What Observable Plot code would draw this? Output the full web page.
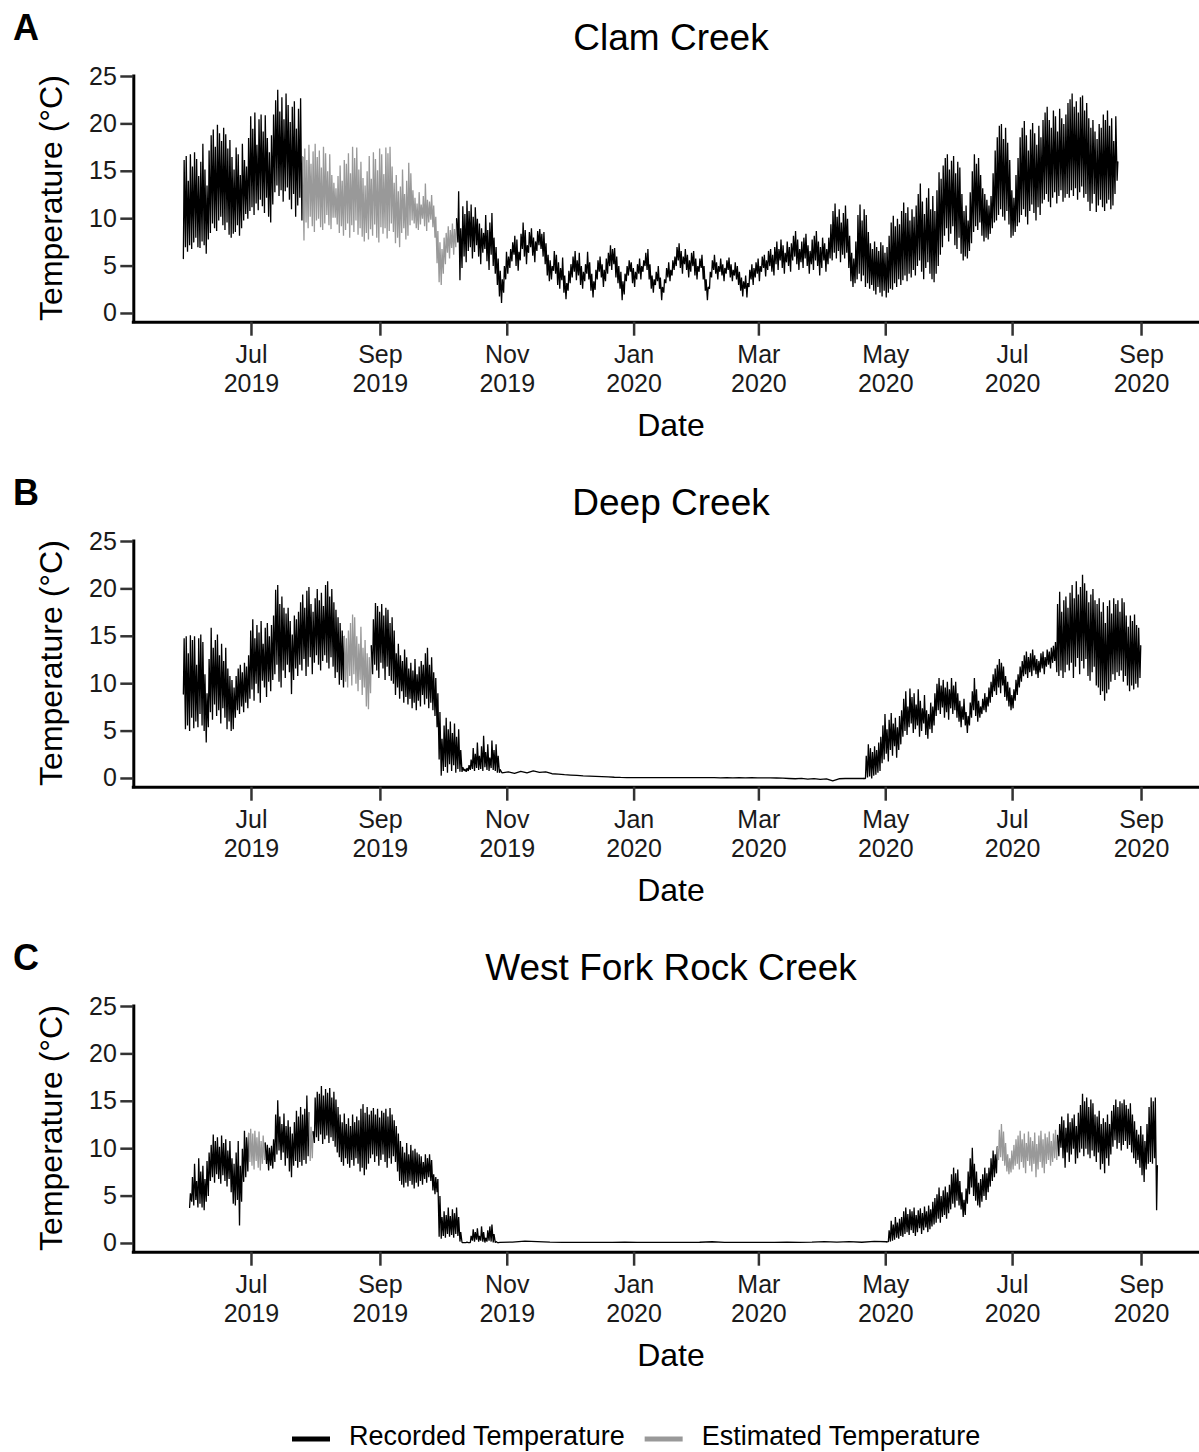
<!DOCTYPE html>
<html>
<head>
<meta charset="utf-8">
<script src="https://cdn.jsdelivr.net/npm/d3@7"></script>
<script src="https://cdn.jsdelivr.net/npm/@observablehq/plot@0.6"></script>
<style>
  html, body { margin: 0; padding: 0; background: #fff; overflow: hidden; }
  #wrap { position: relative; width: 1199px; height: 1452px; background: #fff; }
  .panel { position: absolute; left: 0; width: 1199px; height: 465px; }
  #legend { position: absolute; left: 0; top: 1400px; }
</style>
</head>
<body>
<div id="wrap"></div>
<script>
const FONT = "'Liberation Sans', Arial, Helvetica, sans-serif";

// ---------- labels / ticks ----------
const panelTitles = ["Clam Creek", "Deep Creek", "West Fork Rock Creek"];
const panelTags = ["A", "B", "C"];
const seriesTypes = ["Recorded Temperature", "Estimated Temperature"];
const seriesColors = ["#000000", "#999999"];
const xTickDates = ["2019-07-01", "2019-09-01", "2019-11-01", "2020-01-01", "2020-03-01", "2020-05-01", "2020-07-01", "2020-09-01"];
const monthNames = ["Jan", "Feb", "Mar", "Apr", "May", "Jun", "Jul", "Aug", "Sep", "Oct", "Nov", "Dec"];
const yTicks = [0, 5, 10, 15, 20, 25];
const yTitle = "Temperature (°C)";
const xTitle = "Date";

// ---------- data ----------
// Segments: start date, type (R = recorded, E = estimated), step
// step 0 -> daily "min max" pairs (min early morning, max afternoon)
// step n -> one value every n days
const clamStarts = ["2019-05-29", "2019-07-26", "2019-10-08"];
const clamKinds = ["R", "E", "R"];
const clamSteps = [0, 0, 0];
const clamVals = [
  "5.8 16.2, 7.0 16.6, 6.5 14.0, 7.2 16.8, 6.8 15.5, 7.5 17.0, 8.0 16.3, 7.0 14.5, 6.9 16.0, 7.6 17.9, 7.2 15.2, 6.3 13.5, 7.8 17.2, 8.5 18.8, 9.5 19.4, 9.0 17.6, 8.7 19.9, 9.8 19.0, 10.2 18.2, 9.3 19.6, 8.8 18.9, 9.6 17.4, 8.3 18.3, 8.0 16.5, 8.4 15.2, 8.6 17.5, 9.3 16.8, 8.2 14.6, 9.0 17.9, 9.8 16.2, 10.5 15.5, 10.0 18.5, 10.8 20.8, 11.2 19.5, 10.4 21.2, 11.6 17.8, 10.9 20.5, 12.0 21.0, 11.3 19.2, 10.6 20.9, 12.2 18.5, 10.2 17.0, 9.6 18.8, 11.5 21.0, 12.8 22.5, 13.5 23.6, 12.4 21.3, 13.0 22.8, 11.8 20.5, 12.9 23.2, 13.3 22.0, 12.0 20.2, 11.0 21.8, 12.6 22.4, 10.2 19.5, 11.4 21.6, 12.2 22.7, 9.8 16.5",
  "7.7 17.4, 9.6 16.2, 9.0 17.8, 10.2 15.8, 9.2 17.1, 8.6 17.9, 9.8 16.5, 10.0 17.2, 9.1 15.4, 8.8 17.6, 9.5 16.9, 10.4 15.0, 9.3 16.8, 8.9 14.6, 10.1 13.8, 10.1 13.2, 9.4 14.5, 8.5 15.6, 9.2 14.0, 8.2 16.2, 8.8 15.8, 9.5 16.9, 8.0 14.8, 9.3 17.6, 8.6 16.4, 9.8 17.5, 8.3 15.2, 9.0 16.0, 8.1 14.3, 7.6 13.5, 8.5 15.0, 7.8 16.6, 8.9 14.2, 8.2 17.0, 9.4 16.3, 8.0 15.1, 7.5 17.4, 9.1 16.8, 8.4 14.7, 9.0 17.5, 7.9 16.9, 8.7 17.6, 9.5 15.5, 8.6 13.8, 7.4 14.6, 8.0 12.9, 7.0 13.4, 8.5 15.2, 9.0 12.6, 7.8 14.0, 8.2 15.9, 9.3 14.8, 9.8 13.0, 9.5 12.2, 9.0 11.6, 8.8 12.8, 9.4 11.5, 10.0 12.4, 9.2 13.7, 8.7 12.0, 9.6 11.8, 9.9 12.5, 9.1 11.4, 8.0 10.2, 5.3 8.7, 3.3 7.5, 3.0 6.8, 4.2 8.0, 5.2 8.5, 6.4 9.2, 5.8 8.8, 6.9 9.5, 6.2 8.9, 7.0 10.0",
  "7.5 12.9, 3.5 9.0, 4.8 11.3, 6.0 10.5, 5.4 11.9, 6.6 10.8, 7.0 11.5, 5.8 10.2, 6.5 11.2, 7.2 10.0, 6.0 9.5, 5.2 9.0, 6.4 8.5, 6.8 10.4, 5.5 8.8, 4.6 9.6, 6.2 10.6, 5.0 8.0, 4.2 7.0, 3.0 5.8, 1.8 4.5, 1.1 3.6, 2.2 5.0, 3.6 6.5, " +
  "4.2 6.0, 4.8 6.8, 5.5 7.5, 6.2 8.2, 5.0 7.8, 4.5 6.5, 5.6 8.4, 6.8 9.6, 6.0 8.8, 5.2 7.2, 6.4 8.6, 7.0 9.0, 6.1 8.0, 5.4 7.6, 6.6 8.7, 7.2 8.9, 6.8 8.4, 6.0 8.6, 5.2 7.4, 4.0 6.2, 3.4 5.6, 3.6 5.0, 4.5 6.6, " +
  "4.2 6.2, 3.0 5.4, 2.6 4.8, 3.5 5.9, 2.2 4.0, 1.5 3.2, 2.4 4.5, 3.2 5.2, 3.8 6.0, 4.4 6.6, 3.5 5.6, 4.0 6.4, 3.0 5.0, 2.6 4.4, 3.4 5.2, 4.2 6.5, 3.6 5.4, 2.4 4.2, 1.7 3.4, 2.5 4.6, 3.6 5.6, 4.4 6.0, 3.8 5.2, 2.8 4.6, 3.4 5.8, 4.2 6.4, " +
  "5.0 7.2, 4.6 6.8, 5.2 6.9, 3.8 6.0, 3.2 5.0, 2.6 4.4, " +
  "1.4 3.4, 2.0 4.2, 3.4 5.0, 4.0 5.6, 4.4 5.4, 3.2 4.8, 2.8 4.4, 3.6 5.2, 4.2 5.8, 3.6 5.0, 4.4 5.6, 5.0 6.4, 4.6 6.8, 3.6 5.2, 2.6 4.0, 2.2 3.6, 3.0 4.4, 3.4 5.0, 2.6 3.8, 1.4 2.8, 2.2 3.6, 3.2 4.8, 3.8 5.4, 3.4 4.6, 4.0 5.6, 4.6 6.0, " +
  "5.0 7.0, 5.6 7.4, 4.8 6.6, 4.2 6.0, 5.2 6.8, 4.6 6.2, 3.8 5.6, 4.4 6.4, 5.0 6.6, 4.0 5.8, 3.6 5.0, 4.4 5.8, 4.8 6.2, 3.6 5.0, 2.4 3.6, 1.4 2.8, " +
  "2.6 4.4, 3.8 5.6, 4.6 6.2, 4.2 5.4, 3.6 5.0, 4.4 5.8, 4.0 5.2, 3.4 4.8, 4.2 5.6, 4.6 5.9, 3.8 5.2, 3.4 4.6, 4.0 5.4, 3.6 5.0, 3.0 4.4, 2.4 3.8, " +
  "1.8 3.4, 2.6 4.0, 1.7 3.2, 2.8 4.6, 3.6 5.2, 3.0 4.8, 3.8 5.4, 4.2 5.8, 3.4 5.0, 4.4 6.0, 4.8 6.2, 3.9 5.6, 4.6 6.6, 5.0 6.8, 4.4 6.2, " +
  "4.0 7.0, 5.2 7.6, 4.6 6.8, 5.6 7.8, 4.8 7.2, 4.2 6.4, 5.4 7.6, 5.0 7.0, 4.4 7.4, 5.6 8.2, 6.0 8.7, 5.2 7.8, 4.6 6.8, 5.4 7.6, 4.8 8.0, 5.8 8.4, 5.0 7.2, 4.2 6.6, 5.2 7.8, 4.6 8.2, 5.6 8.7, 5.0 7.6, 4.0 7.0, 4.8 8.0, 5.6 7.4, 4.4 6.8, 5.2 8.0, 5.8 9.4, " +
  "5.6 10.8, 6.4 11.6, 5.8 10.2, 6.6 11.0, 5.4 9.6, 6.2 10.6, 5.8 11.4, 6.4 10.0, 4.8 8.2, 3.4 6.4, 2.8 5.8, 3.2 7.6, " +
  "3.6 10.4, 4.2 11.5, 3.4 9.8, 4.0 11.0, 2.8 10.4, 3.2 8.6, 2.6 7.4, 3.0 6.8, 2.4 7.6, 2.0 7.0, 2.8 6.6, 2.2 7.5, 1.8 7.2, 2.4 6.4, 1.7 7.0, 2.2 8.2, " +
  "2.6 9.6, 2.5 10.3, 3.2 9.2, 2.8 10.0, 3.6 9.4, 3.0 10.8, 3.5 11.7, 4.0 10.6, 3.4 11.2, 4.2 9.8, 3.8 11.0, 4.6 10.2, " +
  "4.0 11.4, 5.0 12.6, 5.6 13.7, 4.4 11.8, 3.6 10.5, 4.8 12.2, 5.4 13.2, 4.2 11.0, 3.6 12.4, 3.3 10.8, 4.2 13.0, 5.0 14.9, 6.2 14.2, " +
  "7.0 15.6, 8.2 16.4, 9.0 16.8, 7.6 15.2, 8.4 16.1, 9.2 16.6, 7.2 14.8, 6.8 16.0, 8.0 15.4, 6.3 12.6, 5.6 10.8, 6.0 11.4, 5.8 9.8, 6.6 12.8, 7.4 15.0, " +
  "8.6 16.8, 9.2 15.8, 8.8 16.4, 9.6 14.6, 8.2 13.2, 7.6 12.6, 8.0 12.0, 7.8 11.4, 8.4 12.4, 9.0 14.8, 9.6 17.2, " +
  "9.8 18.6, 10.4 19.8, 11.0 20.0, 10.2 18.4, 9.8 19.6, 10.8 18.0, 9.4 16.2, 8.0 13.0, 8.2 12.2, 8.6 14.6, 9.2 16.4, " +
  "9.6 18.6, 10.4 19.6, 11.0 20.3, 10.2 18.8, 9.4 17.2, 10.8 19.4, 11.5 20.1, 10.6 19.0, 9.8 17.8, 11.2 19.8, 10.4 18.6, 11.6 20.4, " +
  "12.0 21.2, 12.6 21.8, 11.8 20.4, 11.2 19.6, 12.2 21.4, 12.8 20.8, 11.6 19.2, 12.4 21.6, 13.0 20.6, 11.8 20.0, 12.2 21.0, 12.6 22.2, " +
  "12.2 22.6, 13.0 23.2, 12.4 21.8, 13.2 22.4, 12.0 21.2, 12.8 22.8, 13.4 23.0, 12.2 21.4, 12.6 22.2, 11.8 20.6, " +
  "10.8 19.6, 11.6 20.4, 12.6 19.2, 10.7 18.4, 11.4 20.0, 12.0 19.6, 11.2 21.0, 10.8 20.4, 11.6 21.4, 12.0 19.8, 11.0 20.6, 11.4 18.2, 12.6 20.8, 14.0 16.0"
];

const deepStarts = ["2019-05-29", "2019-08-15", "2019-08-28", "2019-10-29", "2020-04-21"];
const deepKinds = ["R", "E", "R", "R", "R"];
const deepSteps = [0, 0, 0, 3, 0];
const deepVals = [
  "8.9 14.8, 5.2 15.0, 5.6 13.2, 5.0 15.1, 6.4 14.6, 5.3 15.0, 6.0 12.0, 5.4 14.8, 6.8 15.2, 5.6 14.4, 5.0 11.0, 3.8 9.0, 5.4 12.6, 7.0 15.9, 6.2 13.8, 7.8 14.6, 6.6 15.2, 7.2 13.0, 5.8 14.2, 7.4 12.4, 6.4 13.8, 5.2 11.6, 6.0 10.8, 5.0 10.4, 5.2 9.6, 6.4 10.8, 7.2 11.6, 6.8 12.0, 7.6 11.2, 7.0 12.2, 8.0 11.8, 7.4 13.0, 8.4 15.6, 9.4 16.8, 8.2 14.8, 10.0 16.2, 9.0 15.4, 8.0 16.6, 10.3 14.2, 9.6 15.9, 8.6 16.4, 10.2 15.0, 9.2 16.2, 10.4 17.2, 11.0 19.9, 12.0 20.4, 10.2 18.4, 9.6 19.2, 11.4 18.0, 10.6 17.4, 12.0 18.0, 11.2 16.6, 8.9 15.2, 10.4 17.2, 11.6 16.8, 10.8 17.6, 12.0 18.6, 11.4 19.4, 12.6 18.0, 10.8 19.8, 11.8 20.2, 12.8 18.4, 11.0 17.6, 12.2 19.0, 13.0 20.0, 12.0 18.8, 11.4 19.6, 12.4 18.2, 13.0 20.4, 12.2 20.8, 11.6 19.2, 12.8 20.0, 11.8 18.6, 10.6 17.8, 11.2 17.0, 9.9 16.4, 10.4 15.6, 9.6 15.0",
  "10.2 14.8, 9.6 15.6, 10.8 16.4, 9.8 17.3, 11.0 17.0, 10.0 15.0, 9.2 14.2, 10.4 16.0, 8.8 13.8, 9.6 14.6, 7.6 13.2, 7.3 12.8, 9.0 14.0",
  "11.0 16.8, 12.0 18.5, 11.4 18.2, 10.6 17.6, 12.2 18.4, 11.6 17.2, 10.4 18.0, 11.8 17.8, 10.8 16.4, 10.3 17.0, 10.0 15.6, " +
  "8.8 13.2, 9.6 14.2, 8.4 13.0, 9.2 12.4, 8.0 13.6, 8.6 12.8, 7.8 11.6, 8.4 12.2, 7.4 11.4, 8.0 12.6, 7.2 11.0, 8.2 11.8, 7.6 12.4, 8.8 12.0, 7.8 13.2, 8.4 13.8, 7.4 12.0, 8.0 12.8, 7.2 11.2, 6.6 10.6, 5.4 9.0, 2.0 7.0, " +
  "0.3 4.2, 0.8 5.6, 1.2 6.4, 0.6 5.2, 1.5 6.0, 0.8 4.8, 1.4 5.8, 0.6 4.4, 1.0 5.2, 0.7 3.0, " +
  "0.7 1.2, 0.8 1.0, 0.7 1.1, 0.8 1.4, 0.9 2.0, " +
  "1.0 3.2, 0.8 2.6, 1.1 3.8, 0.9 2.4, 1.0 3.4, 0.8 4.5, 1.2 2.8, 0.9 3.6, 0.8 2.2, 1.1 4.0, 0.9 3.0, 0.8 3.6, 0.6 2.4, 0.6 0.9",
  "0.6 0.7 0.55 0.75 0.6 0.8 0.65 0.7 0.5 0.45 0.4 0.36 0.32 0.28 0.25 0.22 0.19 0.16 0.13 0.11 0.1 0.1 0.09 0.1 0.09 0.1 0.09 0.08 0.09 0.1 0.08 0.09 0.08 0.09 0.08 0.07 0.08 0.07 0.08 0.07 0.08 0.06 0.07 0.06 0.05 0.03 0 -0.03 0.02 -0.06 -0.02 -0.1 -0.04 -0.25 -0.03 0 0 0.01 0",
  "0.0 2.4, 0.1 3.6, 0.2 3.2, 0.0 2.8, 0.3 3.4, 0.4 3.0, 0.6 3.8, 0.8 4.4, " +
  "1.6 5.6, 2.0 6.8, 2.6 5.2, 1.8 6.2, 3.0 6.9, 2.4 5.8, 3.4 6.4, 2.2 5.4, 3.0 6.6, 3.6 7.2, " +
  "4.4 8.4, 5.0 9.2, 4.6 7.6, 5.4 9.5, 5.8 8.6, 4.8 9.0, 5.2 7.8, 5.6 9.4, 4.4 8.2, 5.0 7.4, 5.8 8.8, 4.6 7.2, 4.2 6.8, 5.2 8.0, 4.8 7.6, 5.6 9.0, " +
  "6.6 10.0, 7.2 10.6, 6.8 9.8, 7.5 10.4, 6.4 9.6, 7.0 10.2, 6.2 9.4, 7.4 10.6, 6.8 9.8, 7.2 10.2, 6.4 9.0, 6.0 8.2, 5.4 7.6, 6.2 8.4, 5.6 7.0, 4.8 6.6, " +
  "5.6 8.0, 6.4 9.2, 7.2 10.6, 6.6 9.4, 6.0 8.2, 6.4 7.6, 6.8 8.4, 7.2 9.0, 7.0 8.6, 7.6 9.6, " +
  "8.0 10.2, 8.6 11.0, 9.2 11.6, 8.8 12.0, 9.6 12.6, 9.0 12.2, 9.8 11.8, 8.6 10.8, 8.2 10.2, 7.6 9.6, 7.2 8.8, 7.4 9.4, 8.2 10.4, " +
  "8.8 11.0, 9.6 11.8, 10.2 12.4, 10.8 13.0, 11.0 13.4, 10.6 12.8, 11.2 13.2, 10.8 13.6, 11.4 13.0, 11.0 12.6, 10.6 12.4, 11.2 13.2, 11.6 13.4, 11.0 12.8, 11.8 13.6, 12.0 13.4, 11.6 13.8, 12.2 14.0, 12.4 14.4, " +
  "11.2 18.4, 10.8 19.7, 11.4 17.6, 10.6 18.8, 11.2 19.2, 12.0 18.0, " +
  "11.4 19.6, 12.2 20.4, 10.6 19.0, 11.8 20.8, 12.7 19.4, 11.0 20.2, 12.4 21.5, 11.6 20.6, 12.6 19.8, 10.8 18.6, 10.3 19.4, 11.2 20.0, 11.8 18.8, " +
  "9.8 18.4, 9.6 19.0, 8.8 17.6, 9.2 18.6, 8.2 16.4, 9.0 18.2, 9.4 18.8, 10.2 17.4, " +
  "11.0 19.0, 10.4 18.4, 11.2 18.8, 10.8 17.6, 11.4 19.0, 10.2 18.6, 10.8 17.2, 9.8 16.0, " +
  "9.2 17.2, 9.8 16.6, 9.4 17.3, 10.0 16.2, 9.6 15.9, 10.6 14.0"
];

const westStarts = ["2019-06-01", "2019-06-30", "2019-07-08", "2019-07-29", "2019-07-31", "2019-10-28", "2020-05-02", "2020-06-24", "2020-07-23"];
const westKinds = ["R", "E", "R", "E", "R", "R", "R", "E", "R"];
const westSteps = [0, 0, 0, 0, 0, 6, 0, 0, 0];
const westVals = [
  "3.8 5.3, 4.4 7.0, 4.0 8.4, 4.6 6.6, 3.8 9.0, 4.2 7.6, 3.8 8.2, 3.5 6.8, 4.4 8.7, 5.0 9.6, 6.6 10.4, 7.0 11.5, 6.4 10.8, 7.3 11.2, 6.8 10.2, 6.3 11.4, 7.2 10.6, 6.6 11.0, 6.0 9.8, 6.8 10.8, 5.4 9.0, 4.2 8.4, 4.0 9.6, 4.6 10.8, 1.9 8.2, 4.4 10.0, 6.5 11.9, 7.0 11.2, 7.6 11.6",
  "8.6 12.1, 8.2 11.6, 7.8 11.9, 8.7 11.2, 8.0 11.8, 7.7 10.8, 8.4 11.4, 8.8 10.6",
  "8.4 10.4, 7.7 10.1, 8.2 10.3, 7.9 11.0, 8.6 13.6, 9.4 15.1, 9.8 13.4, 8.8 12.6, 9.6 13.7, 8.2 12.4, 9.0 13.0, 7.6 12.3, 7.0 11.6, 8.2 12.8, 8.7 14.0, 8.0 13.4, 8.6 14.4, 8.2 13.6, 8.8 14.2, 8.4 15.6, 9.2 13.8",
  "8.7 12.3, 9.0 11.8",
  "10.6 15.4, 11.2 16.0, 10.8 15.8, 11.5 16.6, 10.5 15.6, 11.0 16.3, 11.4 15.9, 10.6 16.4, 11.2 15.4, 10.8 16.0, 10.2 15.2, 9.6 14.4, " +
  "9.1 13.6, 8.6 12.8, 8.2 13.7, 9.0 12.6, 8.4 13.2, 8.0 12.4, 8.8 13.6, 8.2 12.8, 9.0 13.4, 8.4 13.0, " +
  "7.6 14.2, 8.0 14.7, 7.2 13.8, 7.8 14.4, 8.4 13.6, " +
  "9.0 14.0, 9.4 14.3, 8.6 13.6, 9.2 14.2, 8.2 13.3, 8.8 14.0, 9.4 13.8, 8.6 14.2, 8.0 13.4, 9.0 14.3, 8.4 13.6, 9.2 13.0, 8.6 12.4, 7.6 11.6, " +
  "6.6 10.8, 6.2 10.2, 5.9 9.6, 6.4 10.6, 6.0 9.4, 6.6 10.4, 6.2 9.8, 5.8 10.0, 6.4 9.6, 6.0 9.4, " +
  "6.6 9.2, 6.2 8.6, 6.8 9.4, 6.4 9.0, 7.0 9.4, 6.6 8.8, 5.6 7.3, 5.2 7.0, 5.4 6.8, 0.7 5.0, " +
  "0.5 2.8, 0.8 3.4, 0.6 3.0, 1.0 3.8, 0.7 2.9, 0.9 3.6, 0.6 3.2, 1.0 3.8, 0.8 2.8, 0.2 1.2, " +
  "0.1 0.1, 0.1 0.1, 0.1 0.15, 0.1 0.1, " +
  "0.1 0.8, 0.3 1.5, 0.2 1.2, 0.4 1.6, 0.2 0.8, 0.3 1.8, 0.2 1.2, 0.1 0.6, 0.2 1.4, 0.3 1.8, 0.2 2.0, 0.1 1.0, 0.1 0.2, 0.1 0.1",
  "0.12 0.15 0.25 0.2 0.14 0.12 0.12 0.12 0.12 0.12 0.14 0.12 0.12 0.12 0.12 0.12 0.13 0.18 0.12 0.12 0.12 0.12 0.12 0.15 0.12 0.14 0.2 0.14 0.2 0.13 0.22 0.18",
  "0.2 1.4, 0.2 2.4, 0.3 2.0, 0.4 2.8, 0.6 2.2, 0.5 2.6, 0.8 2.8, " +
  "0.7 3.4, 1.0 3.8, 1.2 3.1, 0.9 3.6, 1.4 3.4, 1.1 3.8, 0.8 3.0, 1.2 3.5, 1.6 3.7, 1.0 3.2, 1.4 3.9, 1.7 3.4, 1.2 4.0, 1.5 3.6, 1.8 4.4, 2.0 4.8, " +
  "2.2 5.2, 2.6 5.9, 2.2 5.0, 2.8 5.6, 3.0 6.0, 2.6 5.4, 3.2 6.2, " +
  "3.6 7.3, 4.2 8.0, 3.8 7.4, 4.5 7.8, 4.0 6.6, 3.6 5.4, 2.8 4.6, 3.0 5.8, 4.2 7.6, " +
  "5.2 9.0, 5.9 10.1, 5.0 8.4, 4.5 7.6, 4.0 6.4, 3.8 6.8, 4.4 7.3, 5.0 8.0, 4.6 7.4, 5.4 8.0, 6.0 9.0, 6.6 9.8, 7.0 9.4, 7.4 10.2",
  "8.8 12.0, 9.1 12.6, 8.7 11.8, 8.2 10.6, 7.6 9.4, 7.3 9.0, 7.5 9.8, 7.8 10.4, 8.2 11.0, 8.4 11.4, 7.8 11.9, 8.6 11.0, 8.0 11.6, 7.4 10.6, 8.7 11.8, 8.2 11.2, 7.6 10.8, 8.4 11.7, 7.0 10.5, 7.8 11.4, 8.6 11.9, 8.0 11.0, 7.4 11.6, 8.4 11.2, 8.8 11.8, 8.2 10.8, 8.6 11.6, 9.0 12.0, 8.8 11.4",
  "9.2 12.6, 10.1 13.4, 9.0 13.0, 8.0 12.2, 9.6 13.7, 8.6 12.8, 9.4 13.2, 10.0 13.6, 8.4 12.4, 9.0 13.8, " +
  "9.6 14.6, 10.0 15.8, 9.2 15.0, 10.0 15.4, 9.4 14.4, 9.0 15.2, 9.8 14.8, 9.2 13.6, " +
  "8.6 13.4, 9.6 14.0, 7.8 12.6, 8.4 13.2, 7.4 12.8, 9.0 13.6, 8.2 12.6, 9.4 14.0, " +
  "10.2 14.6, 10.9 15.2, 10.0 14.4, 10.6 15.0, 9.8 14.8, 10.4 15.2, 10.8 14.6, 10.0 14.2, 10.4 14.8, 9.6 13.6, " +
  "9.0 12.9, 8.4 12.0, 8.8 11.5, 8.0 12.4, 7.2 11.5, 6.5 10.8, 7.8 12.6, 8.4 14.4, " +
  "8.6 15.4, 8.4 15.0, 9.0 15.4, 3.5 8.2"
];

// ---------- build tables ----------
const DAY = 864e5, HOUR = 36e5;
function parseDay(s) { const [y, m, d] = s.split("-").map(Number); return Date.UTC(y, m - 1, d); }
function build(starts, kinds, steps, vals) {
  const out = [];
  let prev = null;
  starts.forEach((s, k) => {
    const base = parseDay(s);
    const type = kinds[k] === "R" ? seriesTypes[0] : seriesTypes[1];
    const nums = vals[k].trim().split(/[\s,]+/).map(Number);
    if (prev) out.push({ date: prev.date, temp: prev.temp, seg: k, type });
    nums.forEach((v, i) => {
      const t = steps[k] === 0
        ? base + Math.floor(i / 2) * DAY + (i % 2 ? 15 : 6) * HOUR
        : base + i * steps[k] * DAY + 12 * HOUR;
      const p = { date: new Date(t), temp: v, seg: k, type };
      out.push(p);
      prev = p;
    });
  });
  return out;
}
const panelData = [
  build(clamStarts, clamKinds, clamSteps, clamVals),
  build(deepStarts, deepKinds, deepSteps, deepVals),
  build(westStarts, westKinds, westSteps, westVals)
];

// ---------- draw ----------
const W = 1199, H = 465;
const mL = 133.3, mR = 0, mT = 76, mB = 143.3;
const xDomain = [new Date(Date.UTC(2019, 4, 5, 10)), new Date(Date.UTC(2020, 8, 28, 21))];
const yDomain = [-0.92, 25];
const xTicks = xTickDates.map(s => new Date(parseDay(s)));
const wrap = document.getElementById("wrap");

panelData.forEach((data, i) => {
  const div = document.createElement("div");
  div.className = "panel";
  div.style.top = (i * 465) + "px";
  wrap.appendChild(div);

  const svg = Plot.plot({
    width: W, height: H,
    marginLeft: mL, marginRight: mR, marginTop: mT, marginBottom: mB,
    style: { fontFamily: FONT, background: "transparent", overflow: "visible", maxWidth: "none" },
    x: { type: "utc", domain: xDomain },
    y: { domain: yDomain },
    color: { domain: seriesTypes, range: seriesColors },
    marks: [
      Plot.line(data, { x: "date", y: "temp", z: "seg", stroke: "type", strokeWidth: 1.3, strokeLinejoin: "miter" }),
      Plot.ruleX([xDomain[0]], { stroke: "#000", strokeWidth: 3, strokeLinecap: "square" }),
      Plot.ruleY([yDomain[0]], { stroke: "#000", strokeWidth: 3, strokeLinecap: "square" }),
      Plot.axisY(yTicks, {
        anchor: "left", label: null, tickSize: 13, tickPadding: 4, fontSize: 25,
        stroke: "#333", strokeWidth: 2.5, fill: "#1a1a1a"
      }),
      Plot.axisX(xTicks, {
        anchor: "bottom", label: null, tickSize: 14, tickPadding: 7, fontSize: 25, lineHeight: 1.14,
        stroke: "#333", strokeWidth: 2.5, fill: "#1a1a1a",
        tickFormat: d => monthNames[d.getUTCMonth()] + "\n" + d.getUTCFullYear()
      })
    ]
  });
  div.appendChild(svg);

  const s = d3.select(svg);
  s.append("text").attr("x", 13).attr("y", 40).attr("font-size", 36).attr("font-weight", "bold")
    .attr("text-anchor", "start").attr("font-family", FONT).attr("fill", "#000").text(panelTags[i]);
  s.append("text").attr("x", 671).attr("y", 50).attr("font-size", 37).attr("text-anchor", "middle")
    .attr("font-family", FONT).attr("fill", "#000").text(panelTitles[i]);
  s.append("text").attr("transform", "translate(62,198) rotate(-90)").attr("font-size", 32)
    .attr("text-anchor", "middle").attr("font-family", FONT).attr("fill", "#000").text(yTitle);
  s.append("text").attr("x", 671).attr("y", 436).attr("font-size", 32).attr("text-anchor", "middle")
    .attr("font-family", FONT).attr("fill", "#000").text(xTitle);
});

// ---------- legend ----------
const lg = d3.select(wrap).append("svg").attr("id", "legend").attr("width", W).attr("height", 52)
  .style("font-family", FONT);
const ly = 39, lx0 = 292, keyW = 38;
lg.append("line").attr("x1", lx0).attr("x2", lx0 + keyW).attr("y1", ly).attr("y2", ly)
  .attr("stroke", seriesColors[0]).attr("stroke-width", 5);
const t1 = lg.append("text").attr("x", lx0 + keyW + 19).attr("y", ly + 6).attr("font-size", 27)
  .attr("text-anchor", "start").attr("fill", "#000").text(seriesTypes[0]);
const t1End = lx0 + keyW + 19 + t1.node().getComputedTextLength();
const k2 = t1End + 20;
lg.append("line").attr("x1", k2).attr("x2", k2 + keyW).attr("y1", ly).attr("y2", ly)
  .attr("stroke", seriesColors[1]).attr("stroke-width", 5);
lg.append("text").attr("x", k2 + keyW + 19).attr("y", ly + 6).attr("font-size", 27)
  .attr("text-anchor", "start").attr("fill", "#000").text(seriesTypes[1]);
</script>
</body>
</html>
